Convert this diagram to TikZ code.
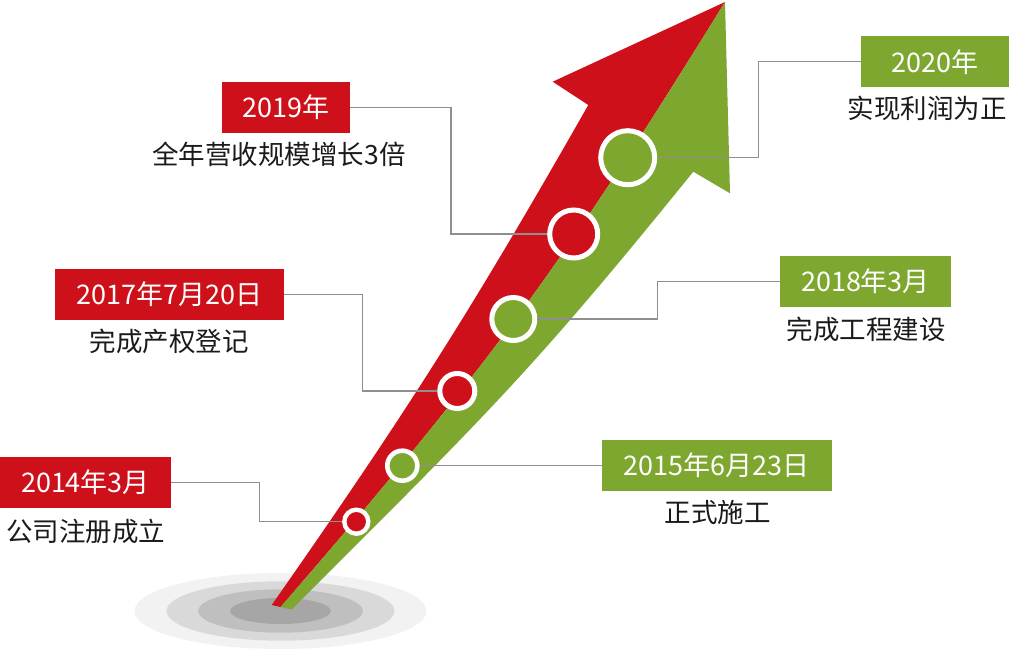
\documentclass[tikz,border=0pt]{standalone}
\usepackage{fontspec}
\setmainfont{Noto Sans CJK SC}
\definecolor{arrred}{HTML}{CE101A}
\definecolor{arrgreen}{HTML}{7EA72F}
\definecolor{conngray}{HTML}{8F8F8F}
\definecolor{txtblack}{HTML}{1A1A1A}
\definecolor{ell1}{HTML}{F2F2F2}
\definecolor{ell2}{HTML}{D9D9D9}
\definecolor{ell3}{HTML}{BFBFBF}
\definecolor{ell4}{HTML}{A6A6A6}
\tikzset{
  datebox/.style={inner sep=0pt, minimum height=51pt, text=white,
    font=\fontsize{27}{31}\selectfont},
  caption/.style={inner sep=0pt, text=txtblack, font=\fontsize{26.5}{30}\selectfont},
  ring/.style={circle, draw=white, line width=5pt, inner sep=0pt},
  conn/.style={draw=conngray, line width=1.3pt}
}
\begin{document}
\begin{tikzpicture}[x=1pt,y=-1pt]
\useasboundingbox (0,0) rectangle (1009,659);
% base ellipses
\fill[ell1] (280.5,611) ellipse [x radius=146, y radius=38];
\fill[ell2] (280.5,611) ellipse [x radius=114, y radius=29.7];
\fill[ell3] (280.5,611) ellipse [x radius=82.3, y radius=21.7];
\fill[ell4] (280.5,611) ellipse [x radius=50.3, y radius=13];
% arrow: red half
\fill[arrred] (725,2) -- (552.7,81.7) -- (588.3,105)
  .. controls (474.3,305) and (411.7,405) .. (271.7,605)
  -- (280.5,607)
  .. controls (498,357) and (570,252) .. (725,2) -- cycle;
% arrow: green half
\fill[arrgreen] (725,2)
  .. controls (570,252) and (498,357) .. (280.5,607)
  -- (291.7,609.5)
  .. controls (491.7,409.5) and (531.3,371.7) .. (693.3,171.7)
  -- (730,193.3) -- cycle;
% milestone rings
\node[ring, fill=arrgreen, minimum size=54pt] (c1) at (627.7,157.7) {};
\node[ring, fill=arrred,   minimum size=48pt] (c2) at (573.7,234) {};
\node[ring, fill=arrgreen, minimum size=43pt] (c3) at (513.3,319) {};
\node[ring, fill=arrred,   minimum size=35pt] (c4) at (457.3,391) {};
\node[ring, fill=arrgreen, minimum size=30pt, line width=4.6pt] (c5) at (402.3,465.7) {};
\node[ring, fill=arrred,   minimum size=24pt, line width=4.4pt] (c6) at (356.3,521.7) {};
% date boxes
\node[datebox, fill=arrred,   minimum width=171pt] (b2014) at (85.5,482.3) {2014年3月};
\node[datebox, fill=arrgreen, minimum width=229.7pt] (b2015) at (716.8,465.5) {2015年6月23日};
\node[datebox, fill=arrred,   minimum width=229pt] (b2017) at (169.5,294.5) {2017年7月20日};
\node[datebox, fill=arrgreen, minimum width=171pt] (b2018) at (865.5,281.3) {2018年3月};
\node[datebox, fill=arrred,   minimum width=128pt] (b2019) at (286,107.3) {2019年};
\node[datebox, fill=arrgreen, minimum width=148pt] (b2020) at (935,61.8) {2020年};
% captions
\node[caption] (t2014) at (85.5,531) {公司注册成立};
\node[caption] (t2015) at (717.5,512.5) {正式施工};
\node[caption] (t2017) at (169,341.5) {完成产权登记};
\node[caption] (t2018) at (866,329) {完成工程建设};
\node[caption] (t2019) at (279,154) {全年营收规模增长3倍};
\node[caption] (t2020) at (927,108) {实现利润为正};
% connectors
\draw[conn] (b2014.east) -- ++(88,0) |- (c6.west);
\draw[conn] (c5.east) -- (c5.east -| b2015.west);
\draw[conn] (b2017.east) -- ++(78.3,0) |- (c4.west);
\draw[conn] (c3.east) -- ++(120.4,0) |- (b2018.west);
\draw[conn] (b2019.east) -- ++(100.7,0) |- (c2.west);
\draw[conn] (c1.east) -- ++(101.1,0) |- (b2020.west);
\end{tikzpicture}
\end{document}
